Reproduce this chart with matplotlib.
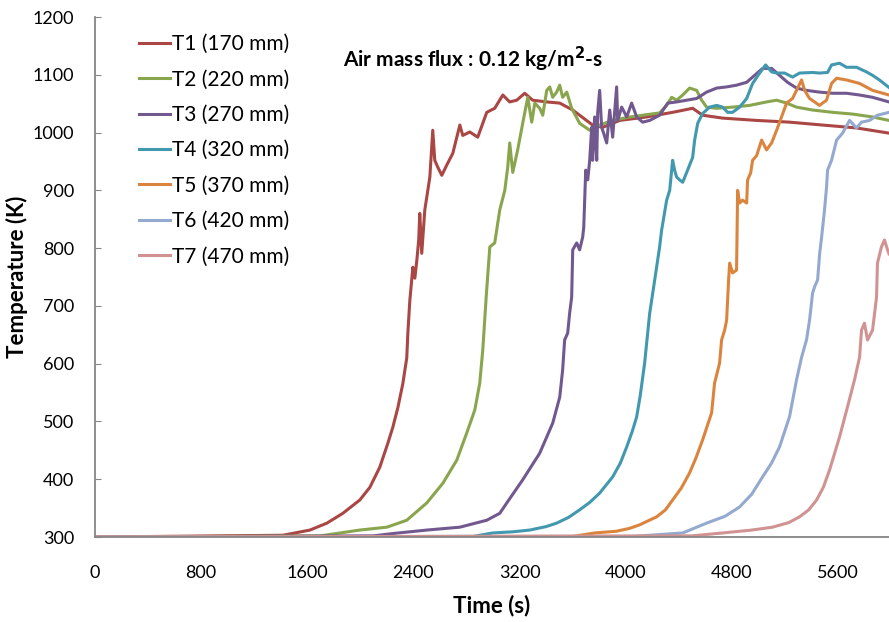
import matplotlib
matplotlib.use("Agg")
import matplotlib.pyplot as plt

plt.rcParams['font.family'] = ['Lato', 'DejaVu Sans']

labels = ["T1 (170 mm)", "T2 (220 mm)", "T3 (270 mm)", "T4 (320 mm)",
          "T5 (370 mm)", "T6 (420 mm)", "T7 (470 mm)"]
colors = ["#AA4643", "#89A54E", "#71588F", "#4198AF", "#DB843D", "#93A9CF", "#D19392"]

t1_t = [0, 1416, 1620, 1748, 1868, 1996, 2072, 2147, 2207, 2245, 2283, 2320, 2350, 2358, 2373,
        2396, 2411, 2426, 2440, 2448, 2463, 2486, 2524, 2546, 2561, 2584, 2614, 2652, 2697, 2750,
        2772, 2825, 2885, 2953, 3013, 3074, 3126, 3179, 3239, 3299, 3405, 3503, 3601, 3751, 3827,
        3955, 4158, 4354, 4505, 4580, 4731, 4987, 5235, 5484, 5740, 5985]
t1_v = [300, 303, 312, 324, 341, 364, 386, 421, 462, 490, 524, 565, 610, 652, 709,
        767, 748, 779, 814, 860, 791, 866, 923, 1004, 952, 940, 926, 944, 964, 1013,
        995, 1001, 992, 1035, 1042, 1065, 1053, 1056, 1068, 1056, 1053, 1051, 1039, 1013, 1009,
        1021, 1027, 1035, 1042, 1030, 1025, 1021, 1018, 1013, 1008, 999]

t2_t = [0, 1700, 1996, 2200, 2350, 2501, 2622, 2727, 2802, 2863, 2900, 2923, 2950, 2976,
        3013, 3051, 3089, 3111, 3126, 3149, 3186, 3224, 3262, 3292, 3315, 3352, 3375, 3405, 3428,
        3450, 3480, 3503, 3525, 3556, 3593, 3653, 3729, 3804, 3902, 4030, 4128, 4256, 4309, 4347,
        4384, 4430, 4482, 4535, 4573, 4610, 4686, 4806, 4934, 5062, 5138, 5213, 5288, 5409, 5560,
        5710, 5861, 5985]
t2_v = [300, 302, 312, 317, 329, 359, 393, 433, 480, 520, 566, 624, 720, 802,
        809, 866, 900, 940, 982, 931, 970, 1016, 1061, 1018, 1051, 1042, 1030, 1073, 1079,
        1061, 1070, 1082, 1061, 1070, 1042, 1016, 1004, 1013, 1021, 1027, 1030, 1034, 1047, 1061,
        1056, 1065, 1077, 1073, 1056, 1044, 1042, 1044, 1047, 1053, 1056, 1051, 1044, 1039, 1035,
        1032, 1027, 1021]

t3_t = [0, 2100, 2245, 2501, 2750, 2953, 3051, 3104, 3224, 3352, 3450, 3503, 3525, 3540, 3563,
        3578, 3593, 3601, 3631, 3653, 3676, 3684, 3699, 3714, 3729, 3744, 3751, 3766, 3782, 3789,
        3804, 3819, 3834, 3857, 3880, 3902, 3932, 3940, 3970, 4008, 4045, 4083, 4128, 4181, 4256,
        4317, 4384, 4460, 4535, 4610, 4686, 4761, 4836, 4912, 4972, 5032, 5100, 5160, 5220, 5288,
        5363, 5461, 5560, 5665, 5763, 5861, 5985]
t3_v = [300, 302, 306, 312, 317, 329, 341, 359, 399, 445, 497, 542, 589, 641, 653,
        688, 715, 797, 809, 797, 819, 836, 935, 918, 952, 1009, 952, 1027, 952, 1034,
        1073, 1009, 999, 982, 1039, 992, 1079, 1021, 1044, 1027, 1051, 1027, 1018, 1021, 1030,
        1051, 1053, 1056, 1059, 1070, 1077, 1079, 1082, 1087, 1099, 1111, 1111, 1099, 1087, 1077,
        1073, 1070, 1068, 1068, 1065, 1061, 1053]

t4_t = [0, 2850, 2998, 3150, 3277, 3400, 3480, 3570, 3653, 3730, 3804, 3902, 3960, 4008, 4050,
        4083, 4110, 4143, 4181, 4219, 4256,
        4271, 4309, 4332, 4354, 4369, 4384, 4407, 4430, 4467, 4505, 4520, 4543, 4580, 4633, 4686,
        4731, 4769, 4806, 4859, 4912, 4957, 5010, 5055, 5100, 5138, 5198, 5258, 5311, 5409, 5461,
        5522, 5552, 5612, 5665, 5740, 5815, 5861, 5913, 5985]
t4_v = [300, 301, 307, 309, 312, 318, 324, 334, 347, 360, 376, 404, 428, 456, 483,
        508, 545, 601, 687, 745, 802,
        831, 883, 900, 952, 935, 923, 918, 914, 935, 957, 987, 1016, 1033, 1044, 1047,
        1044, 1035, 1035, 1044, 1059, 1085, 1103, 1117, 1105, 1103, 1103, 1096, 1103, 1104, 1103,
        1104, 1117, 1120, 1113, 1113, 1105, 1099, 1091, 1078]

t5_t = [0, 3600, 3766, 3932, 4030, 4105, 4234, 4300, 4354, 4420, 4482, 4530, 4580, 4648, 4670,
        4708, 4723, 4746, 4761,
        4776, 4784, 4806, 4836, 4844, 4859, 4881, 4912, 4919, 4942, 4957, 4987, 5025, 5062, 5100,
        5138, 5175, 5213, 5258, 5296, 5326, 5349, 5386, 5424, 5461, 5514, 5552, 5590, 5665, 5763,
        5861, 5985]
t5_v = [300, 301, 307, 310, 315, 321, 335, 347, 364, 385, 411, 437, 468, 515, 566,
        601, 641, 658, 675,
        745, 774, 757, 762, 900, 878, 883, 878, 918, 930, 952, 960, 987, 970, 982,
        1004, 1027, 1051, 1059, 1077, 1091, 1073, 1059, 1053, 1047, 1056, 1085, 1094, 1091, 1085,
        1073, 1065]

t6_t = [0, 4050, 4430, 4610, 4750, 4859, 4950, 5032, 5100, 5160, 5235, 5288, 5326, 5363, 5386,
        5409, 5424, 5447,
        5462, 5477, 5499, 5514, 5522, 5552, 5590, 5635, 5688, 5740, 5778, 5838, 5898, 5985]
t6_v = [300, 301, 307, 324, 336, 352, 374, 404, 428, 456, 508, 572, 611, 641, 675,
        722, 733, 745,
        790, 819, 866, 905, 935, 952, 987, 999, 1021, 1008, 1018, 1021, 1030, 1035]

t7_t = [0, 4500, 4731, 4950, 5107, 5230, 5311, 5380, 5439, 5490, 5537, 5612, 5672, 5725, 5763,
        5778, 5800, 5823, 5861, 5891, 5898, 5928, 5951, 5974, 5985]
t7_v = [300, 302, 307, 312, 317, 325, 335, 347, 364, 386, 416, 473, 525, 572, 611,
        658, 670, 641, 658, 715, 774, 802, 814, 797, 790]

series_t = [t1_t, t2_t, t3_t, t4_t, t5_t, t6_t, t7_t]
series_v = [t1_v, t2_v, t3_v, t4_v, t5_v, t6_v, t7_v]

x_ticks = [0, 800, 1600, 2400, 3200, 4000, 4800, 5600]
y_ticks = [300, 400, 500, 600, 700, 800, 900, 1000, 1100, 1200]

W, H = 889, 622
fig = plt.figure(figsize=(W / 100, H / 100), dpi=100)
ax = fig.add_axes([95 / W, (H - 537) / H, (W - 95) / W, (537 - 17) / H])

for t, v, c, lab in zip(series_t, series_v, colors, labels):
    ax.plot(t, v, color=c, lw=2.2, label=lab, solid_joinstyle='round')

ax.set_xlim(0, 5985)
ax.set_ylim(300, 1200)
ax.set_xticks(x_ticks)
ax.set_yticks(y_ticks)
for s in ['top', 'right']:
    ax.spines[s].set_visible(False)
for s in ['left', 'bottom']:
    ax.spines[s].set_color('#868686')
    ax.spines[s].set_linewidth(1.3)
ax.tick_params(axis='y', direction='in', length=4, color='#868686', pad=15, labelsize=13)
ax.tick_params(axis='x', length=0, pad=20, labelsize=13)

ax.set_xlabel("Time (s)", fontsize=16, fontweight='bold', labelpad=10)
ax.set_ylabel("Temperature (K)", fontsize=16, fontweight='bold', labelpad=3)

ax.legend(loc='upper left', bbox_to_anchor=(139 / W, 1 - 34 / H), bbox_transform=fig.transFigure,
          frameon=False, fontsize=15, borderpad=0, borderaxespad=0, handlelength=1.5,
          handletextpad=0.1, labelspacing=0.74)

fig.text(343 / W, 1 - 59 / H, "Air mass flux : 0.12 kg/m$^\\mathbf{2}$-s", fontsize=15,
         fontweight='bold', va='center', ha='left')

fig.savefig("out.png", dpi=100)
